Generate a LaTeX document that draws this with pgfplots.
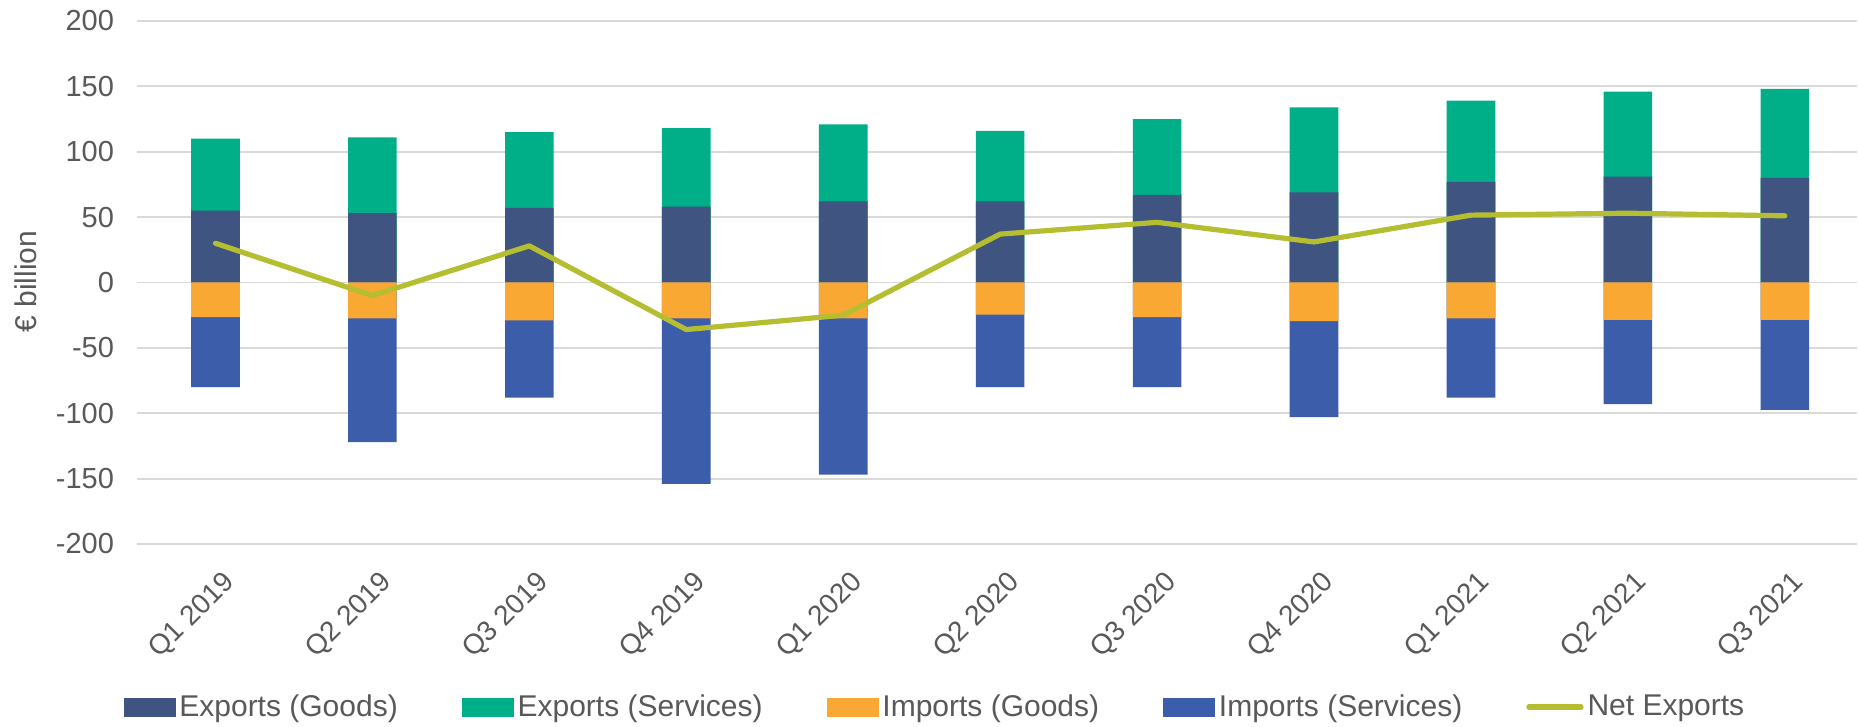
\documentclass[border=0pt]{standalone}
\usepackage{fontspec}
\setmainfont{Liberation Sans}
\usepackage{pgfplots}
\usepackage{pgfplotstable}
\pgfplotsset{compat=1.18}
\definecolor{expgoods}{HTML}{3F5480}
\definecolor{expserv}{HTML}{00AF87}
\definecolor{impgoods}{HTML}{F9A833}
\definecolor{impserv}{HTML}{3C5DA9}
\definecolor{netc}{HTML}{B5BD30}
\definecolor{gridc}{HTML}{D9D9D9}
\definecolor{txt}{HTML}{595959}
\pgfplotstableread{
idx goods total impgoods imptotal net
0 55 110 -26.5 -80 30
1 53 111 -27.5 -122 -10
2 57 115 -29 -88 28
3 58 118 -27.5 -154 -36
4 62 121 -27.5 -147 -25
5 62 116 -24.5 -80 37
6 67 125 -26.5 -80 46
7 69 134 -29.5 -103 31
8 77 139 -27.5 -88 51.5
9 81 146 -28.5 -93 53
10 80 148 -28.5 -97.5 51
}\data
\begin{document}
\begin{tikzpicture}
\useasboundingbox (0,0) rectangle (929pt,363.5pt);
\begin{axis}[
  at={(68.5pt,91.5pt)}, anchor=south west,
  scale only axis, width=860pt, height=261.5pt,
  xmin=-0.5, xmax=10.46, ymin=-200, ymax=200,
  ytick={-200,-150,...,200},
  xtick={0,...,10},
  xticklabels={Q1 2019,Q2 2019,Q3 2019,Q4 2019,Q1 2020,Q2 2020,Q3 2020,Q4 2020,Q1 2021,Q2 2021,Q3 2021},
  axis line style={draw=none},
  tick style={draw=none},
  ymajorgrids, grid style={draw=gridc, line width=0.9pt},
  /pgf/number format/assume math mode=true,
  ticklabel style={font=\fontsize{14.5}{16}\selectfont, text=txt},
  yticklabel style={xshift=-8pt},
  xticklabel style={font=\fontsize{14}{16}\selectfont, xshift=10pt, yshift=-14.5pt, rotate=45, anchor=east},
  legend style={at={(axis description cs:0.4645,-0.3117)}, anchor=center, draw=none,
    font=\fontsize{15}{17}\selectfont, text=txt, legend columns=5,
    /tikz/every even column/.append style={column sep=30pt},
    legend cell align=left, inner sep=0pt},
]
\addplot[ybar, bar width=0.31, bar shift=0pt, fill=expserv, draw=none, forget plot] table[x=idx,y=total]{\data};
\addplot[ybar, bar width=0.31, bar shift=0pt, fill=expgoods, draw=none, forget plot] table[x=idx,y=goods]{\data};
\addplot[ybar, bar width=0.31, bar shift=0pt, fill=impserv, draw=none, forget plot] table[x=idx,y=imptotal]{\data};
\addplot[ybar, bar width=0.31, bar shift=0pt, fill=impgoods, draw=none, forget plot] table[x=idx,y=impgoods]{\data};
\addplot[netc, line width=2.6pt, line join=round, line cap=round, mark=none, forget plot] table[x=idx,y=net]{\data};
\addlegendimage{legend image code/.code={\fill[expgoods] (0pt,-4.5pt) rectangle (25.5pt,4.5pt);}}
\addlegendentry{Exports (Goods)}
\addlegendimage{legend image code/.code={\fill[expserv] (0pt,-4.5pt) rectangle (25.5pt,4.5pt);}}
\addlegendentry{Exports (Services)}
\addlegendimage{legend image code/.code={\fill[impgoods] (0pt,-4.5pt) rectangle (25.5pt,4.5pt);}}
\addlegendentry{Imports (Goods)}
\addlegendimage{legend image code/.code={\fill[impserv] (0pt,-4.5pt) rectangle (25.5pt,4.5pt);}}
\addlegendentry{Imports (Services)}
\addlegendimage{legend image code/.code={\draw[netc, line width=2.6pt, line cap=round] (1pt,0pt) -- (27pt,0pt);}}
\addlegendentry{Net Exports}
\end{axis}
\node[rotate=90, text=txt, font=\fontsize{15}{17}\selectfont] at (13pt,222.75pt) {€ billion};
\end{tikzpicture}
\end{document}
